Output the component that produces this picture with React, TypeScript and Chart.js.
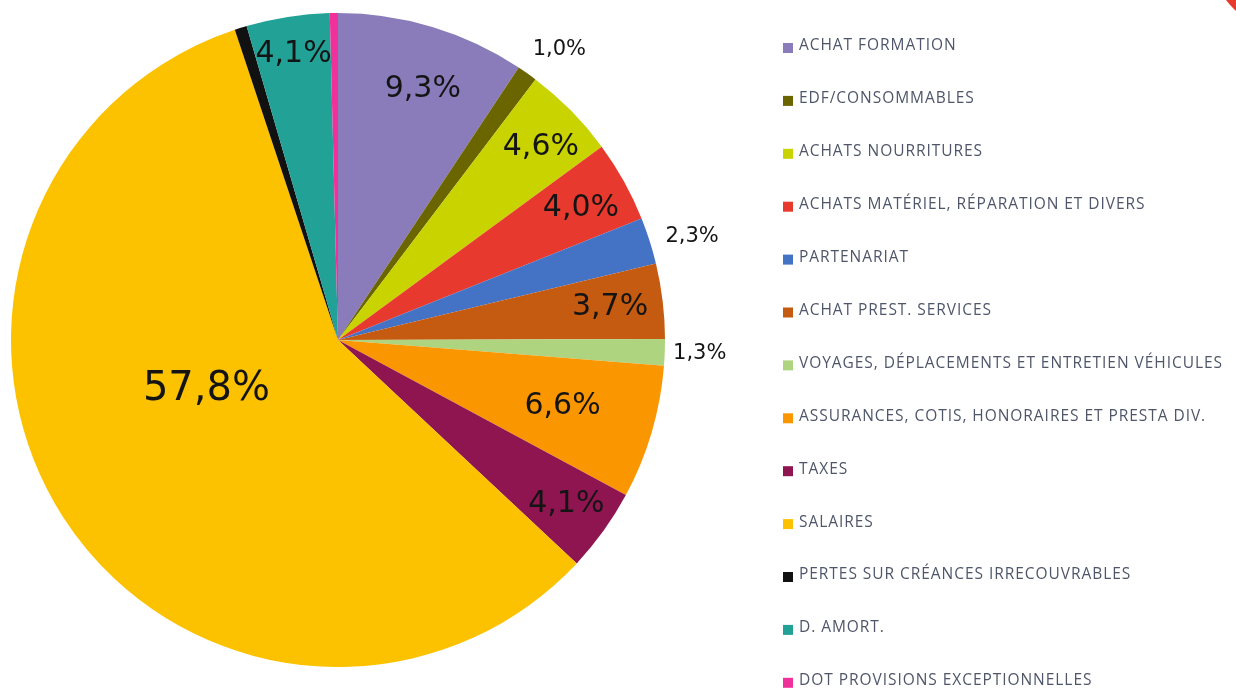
import React, { useEffect, useRef } from "react";
import { Chart, registerables } from "chart.js";

Chart.register(...registerables);

const categories = [
  "ACHAT FORMATION",
  "EDF/CONSOMMABLES",
  "ACHATS NOURRITURES",
  "ACHATS MATÉRIEL, RÉPARATION ET DIVERS",
  "PARTENARIAT",
  "ACHAT PREST. SERVICES",
  "VOYAGES, DÉPLACEMENTS ET ENTRETIEN VÉHICULES",
  "ASSURANCES, COTIS, HONORAIRES ET PRESTA DIV.",
  "TAXES",
  "SALAIRES",
  "PERTES SUR CRÉANCES IRRECOUVRABLES",
  "D. AMORT.",
  "DOT PROVISIONS EXCEPTIONNELLES",
];

const values = [9.3, 1.0, 4.6, 4.0, 2.3, 3.7, 1.3, 6.6, 4.1, 57.8, 0.6, 4.1, 0.4];

const valueLabels = ["9,3%", "1,0%", "4,6%", "4,0%", "2,3%", "3,7%", "1,3%", "6,6%", "4,1%", "57,8%", "", "4,1%", ""];

const colors = [
  "#8a7cba",
  "#6b6500",
  "#c8d300",
  "#e8392e",
  "#4472c4",
  "#c55a11",
  "#afd47f",
  "#fa9700",
  "#8e1550",
  "#fcc200",
  "#111111",
  "#22a197",
  "#f0319a",
];

// label style: radius fraction, angle offset (deg), font size
const labelStyle = [
  { r: 0.81, da: 1.9, size: 30 },
  { r: 1.116, da: 2, size: 21 },
  { r: 0.856, da: 1, size: 30 },
  { r: 0.845, da: 0.6, size: 30 },
  { r: 1.128, da: 1.4, size: 21 },
  { r: 0.838, da: 0, size: 30 },
  { r: 1.107, da: 0, size: 21 },
  { r: 0.716, da: 0, size: 30 },
  { r: 0.86, da: 0, size: 30 },
  { r: 0.43, da: 12, size: 40 },
  { r: 0.8, da: 0, size: 30 },
  { r: 0.885, da: 0, size: 30 },
  { r: 0.8, da: 0, size: 30 },
];

const labelPlugin = {
  id: "sliceLabels",
  afterDatasetsDraw(chart: any) {
    const ctx = chart.ctx;
    const meta = chart.getDatasetMeta(0);
    ctx.save();
    ctx.fillStyle = "#141414";
    ctx.textAlign = "center";
    ctx.textBaseline = "middle";
    meta.data.forEach((arc: any, i: number) => {
      const txt = valueLabels[i];
      if (!txt) return;
      const p = arc.getProps(["x", "y", "startAngle", "endAngle", "outerRadius"], true);
      const st = labelStyle[i];
      const a = (p.startAngle + p.endAngle) / 2 + (st.da * Math.PI) / 180;
      const rr = p.outerRadius * st.r;
      ctx.font = `${st.size}px "DejaVu Sans"`;
      ctx.fillText(txt, p.x + Math.cos(a) * rr, p.y + Math.sin(a) * rr);
    });
    ctx.restore();
  },
};

const legendPlugin = {
  id: "sideLegend",
  afterDraw(chart: any) {
    const ctx = chart.ctx;
    ctx.save();
    ctx.textAlign = "left";
    ctx.textBaseline = "middle";
    ctx.font = '15.5px "Open Sans"';
    try {
      (ctx as any).letterSpacing = "0.95px";
    } catch (e) {}
    categories.forEach((c, i) => {
      const y = 46 + i * 52.9;
      ctx.fillStyle = colors[i];
      ctx.fillRect(783, y - 3, 10, 10);
      ctx.fillStyle = "#4f566a";
      ctx.fillText(c, 799, y);
    });
    try {
      (ctx as any).letterSpacing = "0px";
    } catch (e) {}
    // red decoration in top-right corner
    ctx.fillStyle = "#e8392e";
    ctx.beginPath();
    ctx.arc(1290, -48, 80, 0, Math.PI * 2);
    ctx.fill();
    ctx.restore();
  },
};

export default function App() {
  const ref = useRef<HTMLCanvasElement | null>(null);
  useEffect(() => {
    if (!ref.current) return;
    const chart = new Chart(ref.current, {
      type: "pie",
      data: {
        labels: categories,
        datasets: [
          {
            data: values,
            backgroundColor: colors,
            borderWidth: 0,
          },
        ],
      },
      options: {
        responsive: false,
        animation: false,
        layout: { padding: { left: 11, top: 13, right: 571, bottom: 24 } },
        plugins: {
          legend: { display: false },
          tooltip: { enabled: false },
        },
      },
      plugins: [labelPlugin, legendPlugin],
    });
    return () => chart.destroy();
  }, []);
  return (
    <div style={{ position: "absolute", left: 0, top: 0, width: 1236, height: 691, background: "#fff" }}>
      <canvas ref={ref} width={1236} height={691} style={{ width: 1236, height: 691 }} />
    </div>
  );
}
